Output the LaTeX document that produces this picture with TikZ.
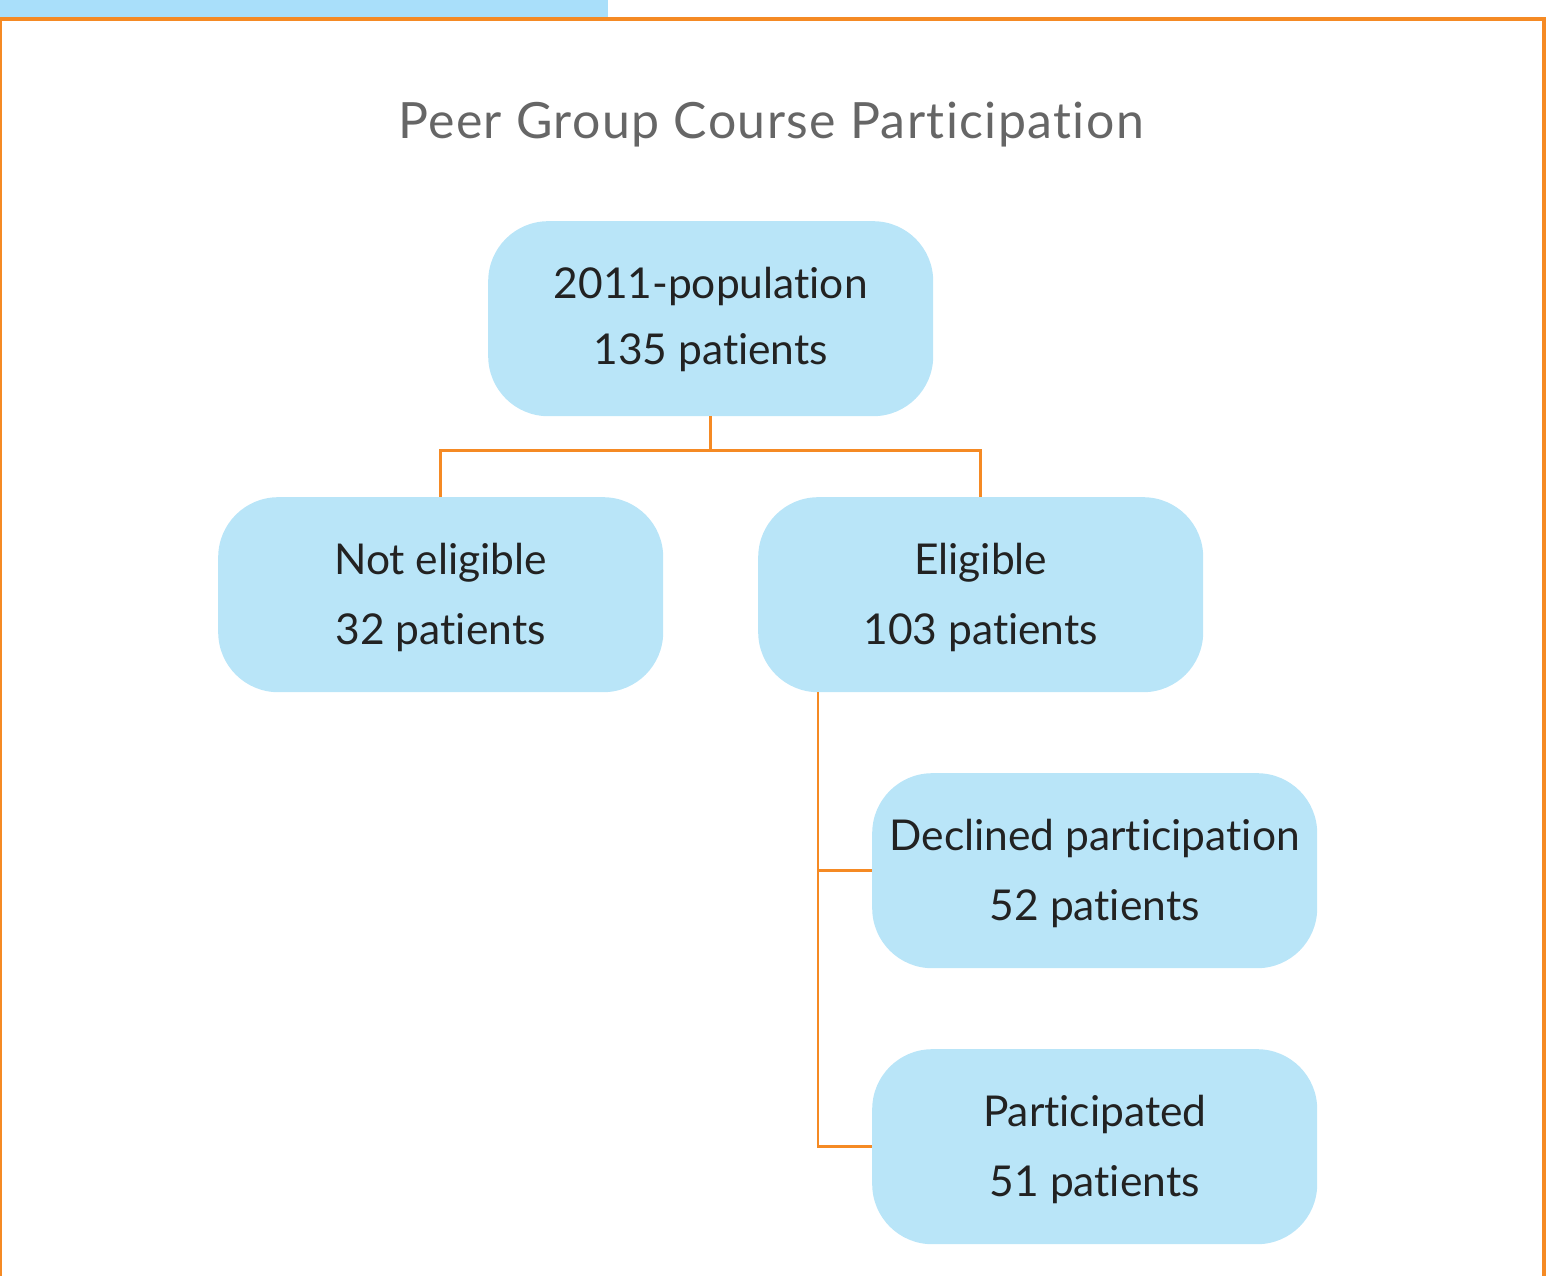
\documentclass[tikz,border=0pt]{standalone}
\usepackage{fontspec}
\setmainfont{Lato}[Ligatures=NoCommon]
\definecolor{boxblue}{HTML}{B9E5F8}
\definecolor{barblue}{HTML}{A9DFFA}
\definecolor{lineorange}{HTML}{F58A24}
\definecolor{titlegray}{HTML}{666666}
\definecolor{textdark}{HTML}{222222}
\begin{document}
\begin{tikzpicture}[x=1pt,y=-1pt,
  stepbox/.style={fill=boxblue, rounded corners=60pt, minimum width=445pt,
    minimum height=195pt, inner sep=0pt, anchor=north west},
  boxtext/.style={text=textdark, anchor=base, inner sep=0pt,
    font=\fontsize{42.5}{50}\selectfont},
  conn/.style={draw=lineorange, line width=2.6pt}]
\useasboundingbox (0,0) rectangle (1563,1276);
\clip (0,0) rectangle (1563,1276);
% header strip and frame
\fill[barblue] (0,0) rectangle (608,17);
\draw[lineorange, line width=4pt] (0,1290) -- (0,19) -- (1544,19) -- (1544,1290);
% title
\node[text=titlegray, anchor=base, inner sep=0pt,
  font=\fontsize{50}{58}\selectfont\addfontfeature{LetterSpace=2.8}]
  (title) at (771,139) {Peer Group Course Participation};
% boxes
\node[stepbox] (pop) at (488,221) {};
\node[stepbox] (ne)  at (218,497) {};
\node[stepbox] (el)  at (758,497) {};
\node[stepbox] (dec) at (872,773) {};
\node[stepbox] (par) at (872,1049) {};
% box texts
\node[boxtext] (popa) at ([yshift=-77pt]pop.north) {2011-population};
\node[boxtext] (popb) at ([yshift=-143pt]pop.north) {135 patients};
\node[boxtext] (nea) at ([yshift=-77pt]ne.north) {Not eligible};
\node[boxtext] (neb) at ([yshift=-147pt]ne.north) {32 patients};
\node[boxtext] (ela) at ([yshift=-77pt]el.north) {Eligible};
\node[boxtext] (elb) at ([yshift=-147pt]el.north) {103 patients};
\node[boxtext] (deca) at ([yshift=-77pt]dec.north) {Declined participation};
\node[boxtext] (decb) at ([yshift=-147pt]dec.north) {52 patients};
\node[boxtext] (para) at ([yshift=-77pt]par.north) {Participated};
\node[boxtext] (parb) at ([yshift=-147pt]par.north) {51 patients};
% connectors
\coordinate (split) at ([yshift=-34pt]pop.south);
\draw[conn] (pop.south) -- (split) -| (ne.north);
\draw[conn] (split) -| (el.north);
\coordinate (trunk) at ([xshift=60pt]el.south west);
\draw[conn] (trunk) |- (dec.west);
\draw[conn] (trunk) |- (par.west);
\end{tikzpicture}
\end{document}
